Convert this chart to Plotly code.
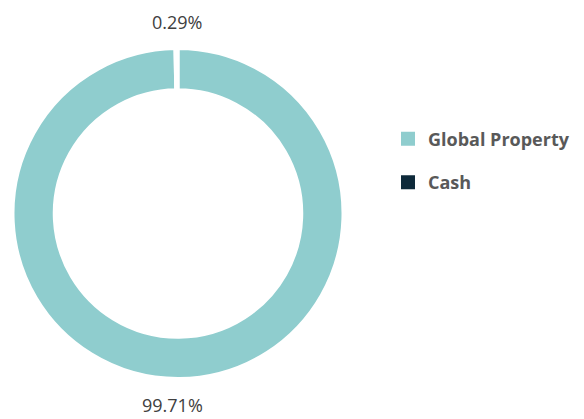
import plotly.graph_objects as go

categories = ["Global Property", "Cash"]
values = [99.71, 0.29]
colors = ["#8FCDCE", "#0E2A3A"]

W, H = 584, 419
cx, cy, R = 178, 213.5, 165  # pie centre (px from left/top) and radius

dom_x = [(cx - R) / W, (cx + R) / W]
dom_y = [(H - cy - R) / H, (H - cy + R) / H]

fig = go.Figure()
fig.add_trace(go.Pie(
    labels=categories,
    values=values,
    marker=dict(colors=colors, line=dict(color="white", width=3)),
    hole=0.75,
    sort=False,
    direction="clockwise",
    rotation=0,
    textinfo="none",
    showlegend=False,
    domain=dict(x=dom_x, y=dom_y),
    hoverinfo="label+value",
))

# legend entries (square swatches)
for i, (name, col) in enumerate(zip(categories, colors)):
    fig.add_trace(go.Scatter(
        x=[None], y=[None], mode="markers", name=name,
        marker=dict(symbol="square", size=14, color=col),
        legendgroup=f"g{i}", showlegend=True, hoverinfo="skip",
    ))

# percentage labels outside the ring
label_text = [f"{v:.2f}%" for v in values]
fig.add_annotation(text=label_text[1], x=(cx - 1) / W, y=dom_y[1] + 27 / H,
                   xref="paper", yref="paper", xanchor="center", yanchor="middle",
                   showarrow=False, font=dict(family="Open Sans", size=18, color="#404040"))
fig.add_annotation(text=label_text[0], x=(cx - 6) / W, y=dom_y[0] - 26 / H,
                   xref="paper", yref="paper", xanchor="center", yanchor="middle",
                   showarrow=False, font=dict(family="Open Sans", size=18, color="#404040"))

fig.update_layout(
    width=W, height=H,
    margin=dict(l=0, r=0, t=0, b=0),
    paper_bgcolor="white",
    plot_bgcolor="white",
    xaxis=dict(visible=False),
    yaxis=dict(visible=False),
    showlegend=True,
    legend=dict(x=388 / W, y=0.712, xanchor="left", yanchor="top",
                tracegroupgap=17,
                font=dict(family="Open Sans", size=18, color="#595959", weight="bold")),
)

fig.write_html("out.html", config={"displayModeBar": False},
               post_script="document.body.style.margin='0';")
